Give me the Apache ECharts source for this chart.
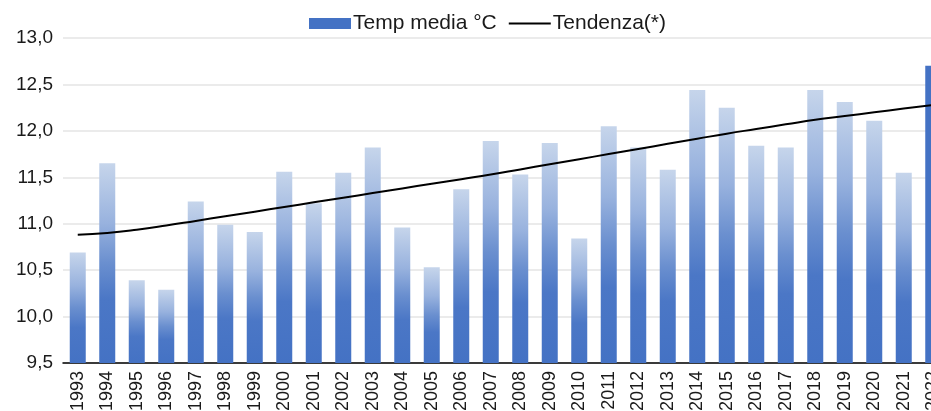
<!DOCTYPE html>
<html>
<head>
<meta charset="utf-8">
<script src="https://cdn.jsdelivr.net/npm/echarts@6/dist/echarts.min.js"></script>
<style>
  html, body { margin: 0; padding: 0; background: #ffffff; }
  #temp { width: 931px; height: 411px; }
</style>
</head>
<body>
<div id="temp"></div>
<script>
// anni
const years = ["1993", "1994", "1995", "1996", "1997", "1998", "1999", "2000", "2001", "2002",
  "2003", "2004", "2005", "2006", "2007", "2008", "2009", "2010", "2011", "2012",
  "2013", "2014", "2015", "2016", "2017", "2018", "2019", "2020", "2021", "2022"];
// temperatura media annua
const tempMedia = [10.69, 11.65, 10.39, 10.29, 11.24, 10.99, 10.91, 11.56, 11.22, 11.55,
  11.82, 10.96, 10.53, 11.37, 11.89, 11.53, 11.87, 10.84, 12.05, 11.82,
  11.58, 12.44, 12.25, 11.84, 11.82, 12.44, 12.31, 12.11, 11.55, 12.70];
// linea di tendenza
const tendenza = [10.88, 10.90, 10.935, 10.98, 11.03, 11.08, 11.13, 11.18, 11.23, 11.28,
  11.33, 11.38, 11.43, 11.48, 11.53, 11.585, 11.64, 11.695, 11.75, 11.805,
  11.86, 11.915, 11.97, 12.02, 12.07, 12.12, 12.16, 12.20, 12.24, 12.28];

const barGradient = new echarts.graphic.LinearGradient(0, 0, 0, 1, [
  { offset: 0, color: "#c6d5eb" },
  { offset: 0.3, color: "#98b2de" },
  { offset: 0.5, color: "#6a8fcf" },
  { offset: 0.68, color: "#4b77c6" },
  { offset: 1, color: "#4472c4" }
]);

const barData = tempMedia.map((v, i) => {
  // ultimo anno in colore pieno
  if (i === tempMedia.length - 1) {
    return { value: v, itemStyle: { color: "#4472c4" } };
  }
  return v;
});

const chart = echarts.init(document.getElementById("temp"));
chart.setOption({
  animation: false,
  textStyle: { fontFamily: "Liberation Sans" },
  legend: {
    left: 309,
    top: 13,
    padding: 0,
    itemWidth: 42,
    itemHeight: 11,
    itemGap: 11,
    textStyle: { color: "#1a1a1a", fontSize: 21, fontFamily: "Liberation Sans", padding: [0, 0, 0, -3] },
    data: [
      { name: "Temp media °C", icon: "rect", itemStyle: { color: "#4472c4" } },
      { name: "Tendenza(*)", itemStyle: { opacity: 0 } }
    ]
  },
  grid: {
    left: 63,
    top: 38,
    width: 885,
    height: 325,
    outerBoundsMode: "none"
  },
  xAxis: {
    type: "category",
    data: years,
    boundaryGap: true,
    axisTick: { show: false },
    axisLine: { show: true, lineStyle: { color: "#000000", width: 1.5 } },
    axisLabel: {
      rotate: 90,
      margin: 8,
      color: "#1a1a1a",
      fontSize: 18,
      fontFamily: "Liberation Sans"
    },
    splitLine: { show: false }
  },
  yAxis: {
    type: "value",
    min: 9.5,
    max: 13,
    interval: 0.5,
    axisLine: { show: false },
    axisTick: { show: false },
    axisLabel: {
      margin: 10,
      color: "#1a1a1a",
      fontSize: 19,
      fontFamily: "Liberation Sans",
      formatter: function (value) {
        return value.toFixed(1).replace(".", ",");
      }
    },
    splitLine: { show: true, lineStyle: { color: "#ebebeb", width: 2 } }
  },
  series: [
    {
      name: "Temp media °C",
      type: "bar",
      barWidth: 16,
      data: barData,
      itemStyle: { color: barGradient }
    },
    {
      name: "Tendenza(*)",
      type: "line",
      symbol: "none",
      smooth: true,
      data: tendenza,
      lineStyle: { color: "#000000", width: 2 },
      itemStyle: { color: "#000000" },
      z: 5
    }
  ]
});
</script>
</body>
</html>
